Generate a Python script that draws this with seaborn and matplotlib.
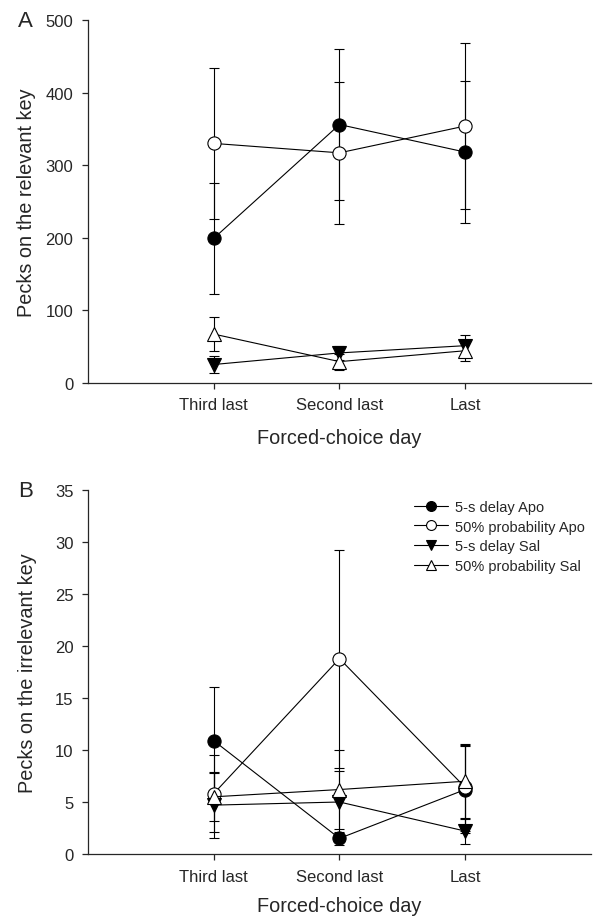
import matplotlib
matplotlib.use("Agg")
import matplotlib.pyplot as plt
import seaborn as sns
import pandas as pd

days = ["Third last", "Second last", "Last"]
groups = ["5-s delay Apo", "50% probability Apo", "5-s delay Sal", "50% probability Sal"]

# panel A: pecks on the relevant key (mean, error)
a_delay_apo = [199, 356, 318]
a_delay_apo_err = [77, 104, 98]
a_prob_apo = [330, 317, 354]
a_prob_apo_err = [104, 98, 115]
a_delay_sal = [25, 41, 51]
a_delay_sal_err = [12, 10, 15]
a_prob_sal = [67, 29, 44]
a_prob_sal_err = [23, 11, 14]

# panel B: pecks on the irrelevant key
b_delay_apo = [10.9, 1.5, 6.2]
b_delay_apo_err = [5.2, 0.6, 4.2]
b_prob_apo = [5.8, 18.8, 6.4]
b_prob_apo_err = [3.7, 10.5, 4.2]
b_delay_sal = [4.7, 5.0, 2.2]
b_delay_sal_err = [3.2, 3.0, 1.2]
b_prob_sal = [5.5, 6.2, 7.0]
b_prob_sal_err = [2.3, 3.8, 3.5]

sns.set_style("ticks")
plt.rcParams["font.family"] = ["Liberation Sans", "DejaVu Sans"]

styles = {
    "5-s delay Apo": dict(marker="o", mfc="black"),
    "50% probability Apo": dict(marker="o", mfc="white"),
    "5-s delay Sal": dict(marker="v", mfc="black"),
    "50% probability Sal": dict(marker="^", mfc="white"),
}


def make_df(vals, errs):
    rows = []
    for g, v, e in zip(groups, vals, errs):
        for d, y, err in zip(days, v, e):
            rows.append({"day": d, "group": g, "pecks": y, "err": err})
    return pd.DataFrame(rows)


df_a = make_df([a_delay_apo, a_prob_apo, a_delay_sal, a_prob_sal],
               [a_delay_apo_err, a_prob_apo_err, a_delay_sal_err, a_prob_sal_err])
df_b = make_df([b_delay_apo, b_prob_apo, b_delay_sal, b_prob_sal],
               [b_delay_apo_err, b_prob_apo_err, b_delay_sal_err, b_prob_sal_err])

fig = plt.figure(figsize=(5.94, 9.2), dpi=100)
ax_a = fig.add_axes([0.148, 0.583, 0.847, 0.394])
ax_b = fig.add_axes([0.148, 0.0707, 0.847, 0.3953])


def draw(ax, df):
    for g, dfg in df.groupby("group", sort=False):
        ax.errorbar(dfg["day"], dfg["pecks"], yerr=dfg["err"], fmt="none",
                    ecolor="black", elinewidth=0.8, capsize=3.7, capthick=0.8,
                    zorder=2)
        st = styles[g]
        sns.lineplot(data=dfg, x="day", y="pecks", color="black",
                     marker=st["marker"], markerfacecolor=st["mfc"],
                     markeredgecolor="black", markeredgewidth=0.8,
                     markersize=9.5, linewidth=0.8, label=g, legend=False,
                     zorder=3, ax=ax)
    ax.set_xlim(-1, 3)
    ax.spines[["right", "top"]].set_visible(False)
    ax.spines[["left", "bottom"]].set_linewidth(0.9)
    ax.tick_params(axis="both", labelsize=12, length=4.5, width=0.9)
    ax.tick_params(axis="y", pad=6)
    ax.tick_params(axis="x", pad=6)


draw(ax_a, df_a)
ax_a.set_ylim(0, 500)
ax_a.set_yticks([0, 100, 200, 300, 400, 500])
ax_a.set_ylabel("Pecks on the relevant key", fontsize=14.3, labelpad=7)
ax_a.set_xlabel("Forced-choice day", fontsize=14.3, labelpad=11)

draw(ax_b, df_b)
ax_b.set_ylim(0, 35)
ax_b.set_yticks(range(0, 36, 5))
ax_b.set_ylabel("Pecks on the irrelevant key", fontsize=14.3, labelpad=13)
ax_b.set_xlabel("Forced-choice day", fontsize=14.3, labelpad=9)

ax_b.legend(loc="upper right", bbox_to_anchor=(1.0, 0.99), frameon=False,
            fontsize=10.5, markerscale=0.75, handlelength=2.3, handletextpad=0.5,
            labelspacing=0.4, borderaxespad=0)

fig.text(0.03, 0.977, "A", fontsize=16, va="center")
fig.text(0.03, 0.466, "B", fontsize=16, va="center")

plt.savefig("out.png", dpi=100)
